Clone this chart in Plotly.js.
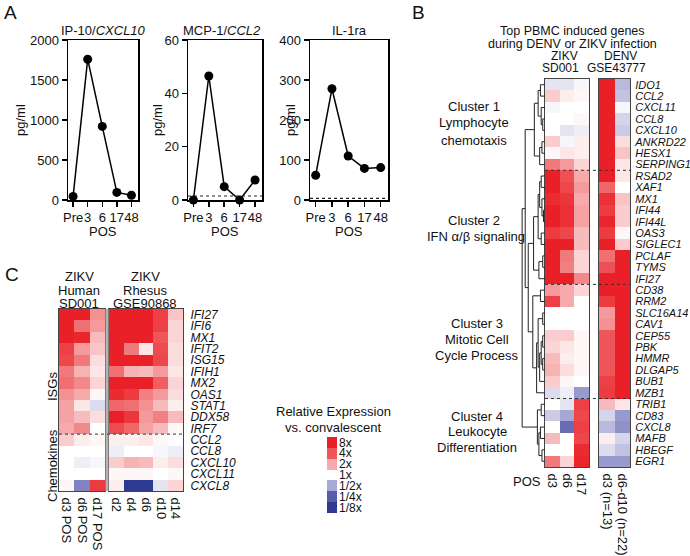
<!DOCTYPE html>
<html>
<head>
<meta charset="utf-8">
<script src="https://cdn.plot.ly/plotly-3.0.1.min.js"></script>
<style>
  html, body { margin: 0; padding: 0; background: #fff; }
  #fig { width: 690px; height: 556px; }
</style>
</head>
<body>
<div id="fig"></div>
<script>
// ---- panel A: serum cytokines
const timepoints = ["Pre", "3", "6", "17", "48"];
const cxcl10Vals = [45, 1760, 920, 95, 60];
const ccl2Vals = [0, 46.5, 5, 0, 7.5];
const il1raVals = [62, 278, 110, 79, 81];
const ccl2Lod = 1.5;
const il1raLod = 4;

// ---- panel B: top PBMC induced genes (log2 fold vs convalescent)
const bGenes = ["IDO1", "CCL2", "CXCL11", "CCL8", "CXCL10", "ANKRD22", "HESX1", "SERPING1",
  "RSAD2", "XAF1", "MX1", "IFI44", "IFI44L", "OAS3", "SIGLEC1", "PCLAF", "TYMS", "IFI27",
  "CD38", "RRM2", "SLC16A14", "CAV1", "CEP55", "PBK", "HMMR", "DLGAP5", "BUB1", "MZB1",
  "TRIB1", "CD83", "CXCL8", "MAFB", "HBEGF", "EGR1"];
const bZikvCols = ["d3", "d6", "d17"];
const bDenvCols = ["d3 (n=13)", "d6-d10 (n=22)"];
const bZikvVals = [
  [-0.3, -0.3, -0.1], [0.6, 0.2, 0.1], [-0.1, 0, 0], [0, 0, 0.1], [0, -0.3, -0.2],
  [0.6, -0.1, 0.2], [0.1, 0.3, 0.2], [1.6, 1.2, 0.5],
  [3, 2.1, 1.0], [3, 2.3, 1.2], [2.8, 2.6, 1.0], [3, 2.7, 1.1], [3, 2.7, 1.1],
  [2.5, 2.3, 0.8], [3, 3, 0.8], [3, 1.6, 0.5], [3, 1.5, 0.5], [3, 3, 1.4],
  [1.2, 1.0, 0.5], [2.4, 1.0, 0], [0, 0, 0], [0, 0, 0], [0.6, 0.6, 0.1],
  [0.5, 0.3, 0.1], [0.8, 0.2, 0.1], [0.9, 0.4, 0.1], [0.6, 0.1, 0], [-0.4, -0.2, -1.2],
  [0, -0.3, 2.4], [-0.6, -1.0, 2.3], [0, -1.8, 2.4], [0.8, 0, 2.3], [0, 0, 2.8], [1.6, 0.5, 2.9]
];
const bDenvVals = [
  [3, -0.8], [3, -0.7], [3, -0.1], [3, -0.5], [3, -0.6], [3, 0.4], [3, 0.7], [3, 0.3],
  [3, 0.3], [1.8, 0], [2.7, 0.7], [2.5, 0.6], [2.9, 0.6], [2.5, 0.1], [3, 0.6], [1.7, 3], [2.1, 3], [3, 3],
  [3, 3], [2.5, 3], [1.2, 3], [1.3, 3], [2, 3], [2, 3], [2, 3], [2, 3], [2.4, 3], [2.5, 3],
  [0.8, 0.3], [-0.5, -1.2], [-0.8, -1.3], [0.2, -0.5], [-0.4, -0.7], [-1.2, -1.2]
];
const bClusterBreaks = [7.5, 17.5, 27.5];
// dendrogram merges: [childA, childB, height]; ids >= 34 are earlier merges
const bMerges = [
  [3, 4, 0.3], [2, 34, 0.5], [0, 1, 0.6], [36, 35, 0.9], [5, 6, 0.4], [38, 7, 0.7], [37, 39, 1.4],
  [11, 12, 0.2], [10, 41, 0.4], [8, 9, 0.5], [43, 42, 0.7], [13, 14, 0.5], [44, 45, 0.9],
  [15, 16, 0.3], [47, 17, 0.8], [46, 48, 1.5],
  [18, 19, 0.6], [20, 21, 0.3], [22, 23, 0.3], [24, 25, 0.3], [52, 53, 0.5], [54, 26, 0.7],
  [51, 55, 0.9], [56, 27, 1.1], [50, 57, 1.6],
  [28, 29, 0.5], [30, 31, 0.6], [32, 33, 0.4], [60, 61, 0.8], [59, 62, 1.0],
  [49, 58, 2.2], [40, 64, 2.6], [65, 63, 3.0]
];

// ---- panel C: ISGs and chemokines, human vs rhesus
const cGenes = ["IFI27", "IFI6", "MX1", "IFIT2", "ISG15", "IFIH1", "MX2", "OAS1", "STAT1",
  "DDX58", "IRF7", "CCL2", "CCL8", "CXCL10", "CXCL11", "CXCL8"];
const cHumanCols = ["d3 POS", "d6 POS", "d17 POS"];
const cRhesusCols = ["d2", "d4", "d6", "d10", "d14"];
const cHumanVals = [
  [3, 3, 1.3], [3, 1.7, 1.2], [3, 2.9, 0.8], [2.4, 1.2, 0.7], [2.3, 1.6, 0.4],
  [1.6, 0.9, 0.3], [1.7, 1.4, 0.5], [1.3, 1.0, 0.1], [1.1, 0.3, -0.4], [1.1, 0.8, 0.4],
  [1.0, 1.4, 0], [0.6, 0.2, 0.1], [0, 0, 0], [0, -0.2, -0.1], [0, 0, 0], [0.1, -1.5, 2.5]
];
const cRhesusVals = [
  [3, 3, 3, 2.4, 0.7], [3, 3, 3, 2.4, 0.5], [3, 3, 3, 2.0, 0.5], [3, 1.6, 0.3, 2.2, 0.4],
  [3, 3, 3, 2.3, 0.4], [1.7, 0.9, 0.8, 1.2, 0.3], [3, 3, 3, 1.9, 0.5], [2.8, 2.5, 1.5, 1.2, 0.4],
  [1.8, 1.7, 1.3, 0.8, 0.2], [3, 2.6, 1.2, 1.5, 0.8], [2.2, 1.8, 1.1, 0.8, 0.1],
  [0.2, 0.2, 0.3, 0.1, 0], [-0.2, 0, 0, -0.1, -0.2], [0.6, 0.9, 0.8, 0.2, 0.4],
  [0.1, 0.1, 0.1, 0, 0.1], [0.2, -3, -3, -0.3, 0.5]
];
const cGroupBreak = 10.5;

// ---- colour key
const legendLevels = ["8x", "4x", "2x", "1x", "1/2x", "1/4x", "1/8x"];
const legendLog2 = [3, 2, 1, 0, -1, -2, -3];

const W = 690, H = 556;
const FONT = "'Liberation Sans', Arial, sans-serif";
const dx = (l, r) => [l / W, r / W];
const dy = (t, b) => [1 - b / H, 1 - t / H];

const heatScale = [
  [0, "rgb(46,57,145)"], [1 / 6, "rgb(88,93,170)"], [2 / 6, "rgb(168,168,212)"],
  [0.5, "rgb(255,255,255)"], [4 / 6, "rgb(246,170,172)"], [5 / 6, "rgb(238,86,90)"],
  [1, "rgb(233,32,39)"]
];

function lineAxes(xDom, yMax, dtick) {
  const common = {
    showline: true, mirror: true, linecolor: "#000", linewidth: 1.5,
    ticks: "outside", ticklen: 5, tickwidth: 1.5, tickcolor: "#000",
    showgrid: false, zeroline: false, tickfont: { size: 13, color: "#111" }
  };
  return {
    x: Object.assign({}, common, {
      domain: xDom, type: "category", range: [-0.35, 4.45],
      tickmode: "array", tickvals: timepoints, ticktext: timepoints, tickangle: 0
    }),
    y: Object.assign({}, common, { domain: dy(40, 200), range: [0, yMax], dtick: dtick })
  };
}

function heatAxes(xDom, yDom, cols, rows, opts) {
  return {
    x: {
      domain: xDom, type: "category", showline: true, mirror: true, linecolor: "#444", linewidth: 1,
      ticks: "", tickangle: 90, tickfont: { size: 13, color: "#111" }, showgrid: false, zeroline: false,
      tickmode: "array", tickvals: cols, ticktext: cols, ticklabelstandoff: opts.xStand || 3
    },
    y: {
      domain: yDom, type: "category", range: [rows.length - 0.5, -0.5], showline: true, mirror: true,
      linecolor: "#444", linewidth: 1, ticks: "", showgrid: false, zeroline: false,
      tickmode: "array", tickvals: rows, ticktext: rows,
      showticklabels: !!opts.labels, side: "right", ticklabelstandoff: opts.yStand || 2,
      tickfont: { size: opts.ySize || 12, style: "italic", color: "#111" }
    }
  };
}

function dendroSegments(nLeaves, merges) {
  const pos = [], hgt = [];
  for (let i = 0; i < nLeaves; i++) { pos.push(i); hgt.push(0); }
  const xs = [], ys = [];
  merges.forEach(([a, b, h]) => {
    xs.push(hgt[a], h, h, hgt[b], null);
    ys.push(pos[a], pos[a], pos[b], pos[b], null);
    pos.push((pos[a] + pos[b]) / 2);
    hgt.push(h);
  });
  return { xs, ys };
}

function draw() {
  const a1 = lineAxes(dx(68, 138), 2000, 500);
  const a2 = lineAxes(dx(188, 262), 60, 20);
  const a3 = lineAxes(dx(310, 388), 400, 100);
  const bz = heatAxes(dx(545, 589), dy(79, 467), bZikvCols, bGenes, {});
  const bd = heatAxes(dx(599, 630), dy(79, 467), bDenvCols, bGenes, { labels: true, ySize: 11 });
  const ch = heatAxes(dx(59, 105), dy(309, 491), cHumanCols, cGenes, {});
  const cr = heatAxes(dx(109, 183), dy(309, 491), cRhesusCols, cGenes, { labels: true, ySize: 12, yStand: 4 });

  const lineTrace = (vals, ax) => ({
    type: "scatter", mode: "lines+markers", x: timepoints, y: vals,
    xaxis: "x" + ax, yaxis: "y" + ax, cliponaxis: false, hoverinfo: "skip",
    line: { color: "#000", width: 1.5 }, marker: { color: "#000", size: 9 }
  });
  const heat = (z, x, y, ax) => ({
    type: "heatmap", z: z, x: x, y: y, xaxis: "x" + ax, yaxis: "y" + ax,
    colorscale: heatScale, zmin: -3, zmax: 3, showscale: false, hoverinfo: "skip"
  });

  const dendro = dendroSegments(bGenes.length, bMerges);
  const traces = [
    lineTrace(cxcl10Vals, ""), lineTrace(ccl2Vals, "2"), lineTrace(il1raVals, "3"),
    heat(bZikvVals, bZikvCols, bGenes, "4"),
    heat(bDenvVals, bDenvCols, bGenes, "5"),
    {
      type: "scatter", mode: "lines", x: dendro.xs, y: dendro.ys, xaxis: "x6", yaxis: "y6",
      line: { color: "#222", width: 1 }, hoverinfo: "skip", connectgaps: false
    },
    heat(cHumanVals, cHumanCols, cGenes, "7"),
    heat(cRhesusVals, cRhesusCols, cGenes, "8"),
    heat(legendLog2.map((v) => [v]), ["key"], legendLevels, "9")
  ];
  traces[0].xaxis = "x"; traces[0].yaxis = "y";

  const dot = { color: "#222", width: 1.2, dash: "dot" };
  const shapes = [
    { type: "line", xref: "x2 domain", x0: 0, x1: 1, yref: "y2", y0: ccl2Lod, y1: ccl2Lod, line: dot },
    { type: "line", xref: "x3 domain", x0: 0, x1: 1, yref: "y3", y0: il1raLod, y1: il1raLod, line: dot },
    {
      type: "rect", xref: "paper", x0: 105.5 / W, x1: 108.5 / W, yref: "paper",
      y0: dy(309, 491)[0], y1: dy(309, 491)[1], fillcolor: "#b4b4b4", line: { width: 0 }
    },
    {
      type: "line", xref: "x7 domain", x0: 0, x1: (183 - 59) / (105 - 59), yref: "y7",
      y0: cGroupBreak, y1: cGroupBreak, line: { color: "#333", width: 1, dash: "dot" }
    }
  ];
  bClusterBreaks.forEach((b) => shapes.push({
    type: "line", xref: "x4 domain", x0: 0, x1: (631 - 545) / (589 - 545), yref: "y4",
    y0: b, y1: b, line: { color: "#333", width: 1, dash: "dot" }
  }));

  const txt = (x, y, text, size, extra) => Object.assign({
    xref: "paper", yref: "paper", x: x / W, y: 1 - y / H, text: text, showarrow: false,
    xanchor: "center", yanchor: "middle", font: { size: size || 13, color: "#111" }
  }, extra || {});
  const annotations = [
    txt(10, 13, "A", 19), txt(418, 13, "B", 19), txt(12, 274, "C", 19),
    txt(103, 31, "IP-10/<i>CXCL10</i>"), txt(222, 31, "MCP-1/<i>CCL2</i>"), txt(349, 31, "IL-1ra"),
    txt(20, 120, "pg/ml", 13, { textangle: -90 }), txt(157, 120, "pg/ml", 13, { textangle: -90 }),
    txt(290, 120, "pg/ml", 13, { textangle: -90 }),
    txt(103, 231, "POS"), txt(225, 231, "POS"), txt(349, 231, "POS"),
    txt(572, 31, "Top PBMC induced genes", 12.5), txt(572, 44, "during DENV or ZIKV infection", 12.5),
    txt(564, 56, "ZIKV", 12), txt(620, 56, "DENV", 12), txt(560, 67.5, "SD001", 12), txt(616, 67.5, "GSE43777", 12),
    txt(474, 106, "Cluster 1"), txt(474, 123, "Lymphocyte"), txt(474, 140, "chemotaxis"),
    txt(474, 220, "Cluster 2"), txt(476, 236, "IFN \u03b1/\u03b2 signaling"),
    txt(477, 323, "Cluster 3"), txt(477, 339, "Mitotic Cell"), txt(477, 355, "Cycle Process"),
    txt(477, 416, "Cluster 4"), txt(477, 431, "Leukocyte"), txt(477, 447, "Differentiation"),
    txt(527, 481, "POS"),
    txt(79, 276, "ZIKV"), txt(79, 290, "Human"), txt(79, 303, "SD001"),
    txt(145, 276, "ZIKV"), txt(145, 290, "Rhesus"), txt(145, 303, "GSE90868"),
    txt(52, 387, "ISGs", 13, { textangle: -90 }), txt(52, 466, "Chemokines", 13, { textangle: -90 }),
    txt(333, 411, "Relative Expression"), txt(333, 427, "vs. convalescent")
  ];

  const layout = {
    width: W, height: H, margin: { l: 0, r: 0, t: 0, b: 0 },
    paper_bgcolor: "#fff", plot_bgcolor: "rgba(0,0,0,0)", showlegend: false,
    font: { family: FONT, size: 13, color: "#111" },
    xaxis: Object.assign(a1.x, { anchor: "y" }), yaxis: Object.assign(a1.y, { anchor: "x" }),
    xaxis2: Object.assign(a2.x, { anchor: "y2" }), yaxis2: Object.assign(a2.y, { anchor: "x2" }),
    xaxis3: Object.assign(a3.x, { anchor: "y3" }), yaxis3: Object.assign(a3.y, { anchor: "x3" }),
    xaxis4: Object.assign(bz.x, { anchor: "y4" }), yaxis4: Object.assign(bz.y, { anchor: "x4" }),
    xaxis5: Object.assign(bd.x, { anchor: "y5" }), yaxis5: Object.assign(bd.y, { anchor: "x5" }),
    xaxis6: { domain: dx(521, 545), range: [3.15, 0], visible: false, anchor: "y6" },
    yaxis6: { domain: dy(79, 467), range: [bGenes.length - 0.5, -0.5], visible: false, anchor: "x6" },
    xaxis7: Object.assign(ch.x, { anchor: "y7" }), yaxis7: Object.assign(ch.y, { anchor: "x7" }),
    xaxis8: Object.assign(cr.x, { anchor: "y8" }), yaxis8: Object.assign(cr.y, { anchor: "x8" }),
    xaxis9: { domain: dx(327, 337), visible: false, anchor: "y9", type: "category" },
    yaxis9: {
      domain: dy(437, 513), type: "category", range: [6.5, -0.5], anchor: "x9", side: "right",
      showline: false, ticks: "", showgrid: false, zeroline: false, ticklabelstandoff: 1,
      tickmode: "array", tickvals: legendLevels, ticktext: legendLevels,
      tickfont: { size: 12, color: "#111" }
    },
    shapes: shapes,
    annotations: annotations
  };

  Plotly.newPlot("fig", traces, layout, { displayModeBar: false, staticPlot: true });
}

window.addEventListener("load", draw);
</script>
</body>
</html>
